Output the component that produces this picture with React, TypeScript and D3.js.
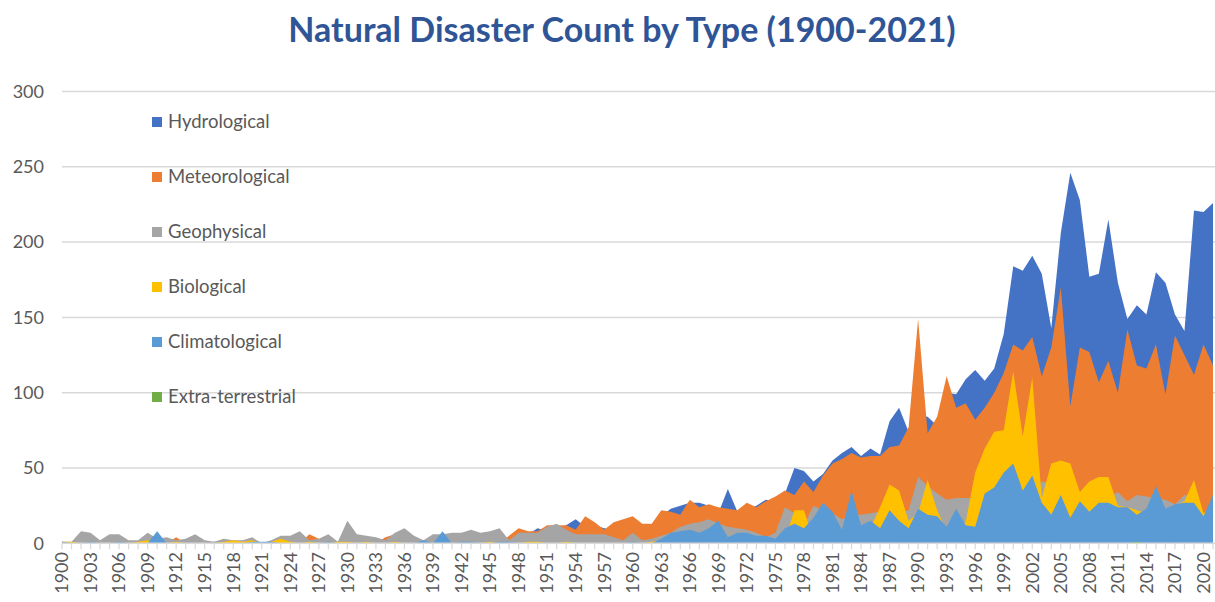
import React from 'react';
import * as d3 from 'd3';

// Annual counts of natural disasters, 1900–2021, by disaster type.
const years: number[] = d3.range(1900, 2022);

const hydrological = [
  1, 0, 2, 1, 0, 1, 2, 1, 0, 1,
  1, 2, 1, 1, 2, 0, 1, 1, 0, 1,
  1, 0, 1, 1, 1, 2, 2, 2, 2, 1,
  2, 2, 2, 1, 2, 3, 3, 2, 1, 2,
  2, 1, 2, 1, 2, 2, 3, 2, 5, 6,
  10, 8, 9, 12, 16, 11, 12, 10, 9, 10,
  12, 10, 11, 18, 23, 25, 27, 27, 25, 20,
  36, 21, 22, 25, 29, 28, 33, 50, 48, 41,
  46, 55, 60, 64, 58, 63, 59, 81, 90, 74,
  85, 84, 78, 100, 99, 109, 115, 108, 116, 139,
  184, 181, 191, 179, 143, 206, 246, 228, 177, 179,
  215, 173, 149, 158, 152, 180, 173, 152, 141, 221,
  220, 226,
];

const meteorological = [
  0, 0, 0, 0, 0, 0, 0, 0, 0, 0,
  0, 0, 4, 0, 0, 0, 0, 0, 0, 0,
  0, 0, 0, 0, 0, 0, 6, 3, 0, 0,
  0, 0, 0, 0, 4, 6, 0, 0, 0, 0,
  0, 0, 0, 0, 0, 0, 0, 5, 10, 8,
  8, 12, 12, 12, 9, 18, 14, 9, 14, 16,
  18, 13, 13, 22, 21, 19, 29, 24, 26, 24,
  23, 22, 27, 24, 28, 31, 35, 32, 41, 34,
  45, 53, 56, 60, 57, 58, 58, 64, 65, 77,
  149, 73, 84, 111, 90, 93, 82, 90, 100, 113,
  132, 128, 137, 111, 130, 170, 91, 130, 127, 107,
  121, 100, 142, 118, 116, 132, 99, 138, 125, 112,
  132, 118,
];

const geophysical = [
  1, 1, 8, 7, 2, 6, 6, 2, 2, 7,
  3, 4, 2, 3, 6, 2, 1, 3, 2, 2,
  4, 0, 2, 5, 5, 8, 2, 3, 6, 1,
  15, 6, 5, 4, 2, 7, 10, 5, 2, 6,
  6, 7, 7, 9, 7, 8, 10, 2, 7, 7,
  7, 11, 13, 9, 6, 6, 6, 6, 4, 2,
  7, 2, 3, 5, 7, 11, 13, 14, 16, 13,
  11, 10, 9, 7, 4, 7, 24, 20, 12, 25,
  22, 20, 16, 20, 19, 20, 21, 25, 20, 22,
  44, 38, 33, 29, 30, 30, 30, 30, 30, 30,
  30, 25, 35, 41, 40, 25, 25, 30, 25, 30,
  30, 34, 28, 32, 31, 30, 29, 26, 32, 30,
  18, 30,
];

const biological = [
  1, 1, 0, 0, 0, 0, 0, 0, 1, 2,
  0, 0, 1, 0, 0, 0, 0, 1, 2, 1,
  2, 0, 1, 3, 1, 0, 1, 0, 0, 1,
  1, 0, 1, 0, 0, 1, 0, 0, 0, 0,
  0, 0, 0, 0, 0, 1, 0, 0, 0, 1,
  1, 0, 0, 1, 0, 0, 0, 0, 0, 0,
  0, 0, 1, 2, 0, 0, 0, 0, 0, 0,
  0, 0, 0, 0, 0, 0, 2, 22, 22, 2,
  3, 2, 2, 3, 5, 10, 24, 39, 35, 15,
  20, 42, 22, 8, 10, 14, 47, 63, 74, 75,
  114, 71, 110, 30, 53, 55, 53, 34, 41, 44,
  44, 25, 24, 22, 20, 15, 10, 25, 28, 42,
  20, 25,
];

const climatological = [
  1, 0, 0, 1, 0, 0, 1, 0, 0, 0,
  8, 0, 0, 0, 0, 0, 0, 0, 0, 0,
  1, 1, 1, 0, 0, 0, 0, 0, 1, 0,
  0, 0, 0, 0, 0, 0, 0, 0, 2, 0,
  8, 0, 1, 1, 0, 0, 1, 1, 0, 0,
  0, 0, 0, 0, 0, 0, 0, 0, 0, 0,
  1, 0, 0, 3, 7, 8, 9, 7, 10, 15,
  4, 7, 7, 5, 5, 3, 10, 13, 10, 17,
  27, 21, 9, 35, 12, 15, 10, 22, 15, 10,
  23, 19, 18, 11, 23, 12, 11, 33, 37, 47,
  53, 35, 45, 27, 19, 32, 17, 28, 21, 27,
  27, 24, 24, 19, 23, 38, 23, 26, 27, 27,
  18, 32,
];

const extraTerrestrial = [
  0, 0, 0, 0, 0, 0, 0, 0, 0, 0,
  0, 0, 0, 0, 0, 0, 0, 0, 0, 0,
  0, 0, 0, 0, 0, 0, 0, 0, 0, 0,
  0, 0, 0, 0, 0, 0, 0, 0, 0, 0,
  0, 0, 0, 0, 0, 0, 0, 0, 0, 0,
  0, 0, 0, 0, 0, 0, 0, 0, 0, 0,
  0, 0, 0, 0, 0, 0, 0, 0, 0, 0,
  0, 0, 0, 0, 0, 0, 0, 0, 0, 0,
  0, 0, 0, 0, 0, 0, 0, 0, 0, 0,
  0, 0, 0, 0, 0, 0, 0, 0, 0, 0,
  0, 0, 0, 0, 0, 0, 0, 0, 0, 0,
  0, 0, 0, 1, 0, 0, 0, 0, 0, 0,
  0, 0,
];

const seriesNames = [
  'Hydrological',
  'Meteorological',
  'Geophysical',
  'Biological',
  'Climatological',
  'Extra-terrestrial',
];
const seriesColors = ['#4472C4', '#ED7D31', '#A5A5A5', '#FFC000', '#5B9BD5', '#70AD47'];
const seriesValues = [
  hydrological,
  meteorological,
  geophysical,
  biological,
  climatological,
  extraTerrestrial,
];

const yTicks = [0, 50, 100, 150, 200, 250, 300];
const xTickLabels = years.filter((_, i) => i % 3 === 0);

const W = 1215;
const H = 602;
const PLOT_LEFT = 62;
const PLOT_RIGHT = 1213;
const PLOT_TOP = 91.5;
const PLOT_BOTTOM = 543.3;
const TEXT = '#595959';
const GRID = '#D9D9D9';
const FONT = "Lato, 'Open Sans', sans-serif";

export default function App() {
  const x = d3.scalePoint<number>().domain(years).range([PLOT_LEFT, PLOT_RIGHT]);
  const y = d3.scaleLinear().domain([0, 300]).range([PLOT_BOTTOM, PLOT_TOP]);

  const areaGen = d3
    .area<number>()
    .x((_, i) => x(years[i]) as number)
    .y0(y(0))
    .y1((d) => y(d));

  const series = seriesNames.map((name, i) => ({
    name,
    color: seriesColors[i],
    values: seriesValues[i],
  }));

  return (
    <svg
      width={W}
      height={H}
      viewBox={`0 0 ${W} ${H}`}
      style={{ position: 'absolute', left: 0, top: 0, background: '#fff' }}
      fontFamily={FONT}
    >
      <rect x={0} y={0} width={W} height={H} fill="#fff" />
      <text
        x={622}
        y={42}
        textAnchor="middle"
        fontSize={34}
        fontWeight="bold"
        fill="#2F5597"
      >
        Natural Disaster Count by Type (1900-2021)
      </text>

      {/* horizontal gridlines and value labels */}
      {yTicks.map((t) => (
        <g key={t}>
          {t > 0 && (
            <line
              x1={PLOT_LEFT}
              x2={W}
              y1={y(t)}
              y2={y(t)}
              stroke={GRID}
              strokeWidth={1.5}
            />
          )}
          <text
            x={44}
            y={y(t)}
            dy="0.35em"
            textAnchor="end"
            fontSize={18}
            fill={TEXT}
          >
            {t}
          </text>
        </g>
      ))}

      {/* overlapping areas, first series at the back */}
      {series.map((s) => (
        <path key={s.name} d={areaGen(s.values) ?? ''} fill={s.color} />
      ))}

      {/* category axis */}
      <line
        x1={PLOT_LEFT}
        x2={W}
        y1={y(0)}
        y2={y(0)}
        stroke={GRID}
        strokeWidth={1.5}
      />
      {years.map((yr) => (
        <line
          key={yr}
          x1={x(yr)}
          x2={x(yr)}
          y1={y(0)}
          y2={y(0) + 6}
          stroke={GRID}
          strokeWidth={1.2}
        />
      ))}
      {xTickLabels.map((yr) => (
        <text
          key={yr}
          transform={`translate(${x(yr)},552) rotate(-90)`}
          textAnchor="end"
          dy="0.35em"
          fontSize={18}
          fill={TEXT}
        >
          {yr}
        </text>
      ))}

      {/* legend */}
      {series.map((s, i) => (
        <g key={s.name} transform={`translate(152,${122 + i * 55})`}>
          <rect x={0} y={-5} width={10} height={10} fill={s.color} />
          <text x={16} y={0} dy="0.35em" fontSize={18.5} fill={TEXT}>
            {s.name}
          </text>
        </g>
      ))}
    </svg>
  );
}
